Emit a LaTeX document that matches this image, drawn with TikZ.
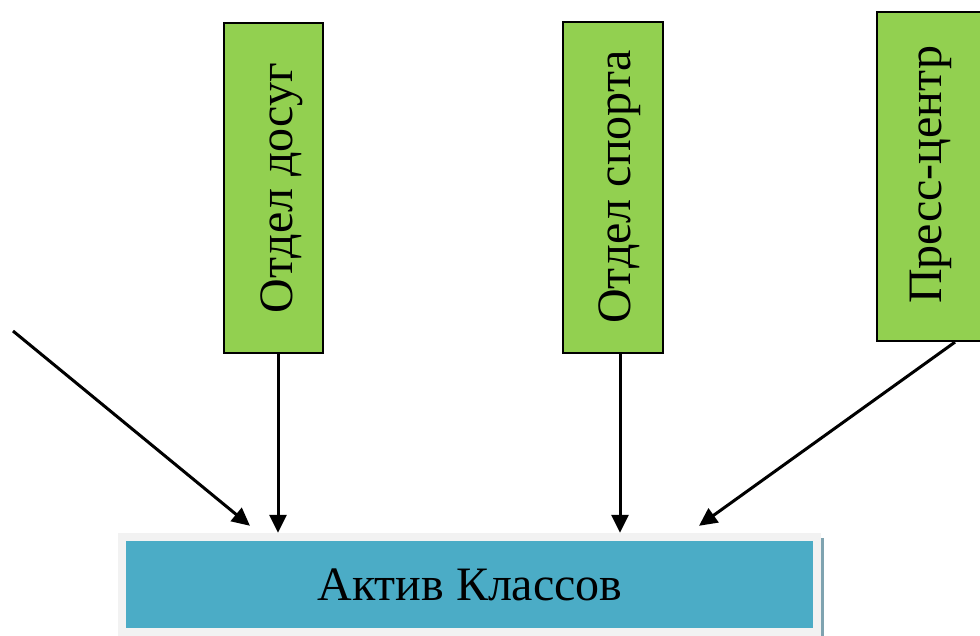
\documentclass[tikz,border=0pt]{standalone}
\usepackage{fontspec}
\setmainfont{Liberation Serif}
\newfontfamily\lblfont{Liberation Serif}
\usetikzlibrary{arrows.meta}
\definecolor{boxgreen}{HTML}{92D050}
\definecolor{boxblue}{HTML}{4BACC6}
\definecolor{framegray}{HTML}{F2F2F2}
\definecolor{edgeblue}{HTML}{7FA3B0}
\tikzset{
  greenbox/.style={draw=black, line width=2.2pt, fill=boxgreen, inner sep=0pt},
  lbl/.style={font=\lblfont\fontsize{48}{52}\selectfont, inner sep=0pt, text=black},
  arr/.style={draw=black, line width=3pt, -{Triangle[length=18pt,width=17pt]}},
}
\begin{document}
\begin{tikzpicture}[x=1pt,y=-1pt]
\useasboundingbox (0,0) rectangle (980,636);
% bottom box with frame
\node[fill=framegray, inner sep=0pt, minimum width=703pt, minimum height=103pt] (frame) at (469.5,584.5) {};
\node[fill=boxblue, inner sep=0pt, minimum width=687pt, minimum height=87pt] (act) at (469.5,584.5) {};
\node[lbl, anchor=base] (acttext) at (470,600) {Актив Классов};
\draw[edgeblue, line width=2.5pt] ([xshift=1.5pt,yshift=-5pt]frame.north east) -- ([xshift=1.5pt]frame.south east);
% green boxes
\node[greenbox, minimum width=99pt, minimum height=330pt] (g1) at (273.5,188) {};
\node[greenbox, minimum width=100pt, minimum height=331pt] (g2) at (613,187.5) {};
\node[greenbox, minimum width=106pt, minimum height=329pt] (g3) at (930,176.5) {};
\node[lbl, rotate=90, anchor=base] (t1) at (292,188) {Отдел досуг};
\node[lbl, rotate=90, anchor=base] (t2) at (630,187) {Отдел спорта};
\node[lbl, rotate=90, anchor=base] (t3) at (941,175) {Пресс-центр};
% arrows
\coordinate (free) at (13,331);
\coordinate (e0) at ([xshift=-219.5pt,yshift=7pt]frame.north);
\coordinate (e3) at ([xshift=229.5pt,yshift=7pt]frame.north);
\draw[arr] (free) -- (e0);
\draw[arr] ([xshift=4.5pt]g1.south) -- ([xshift=4.5pt]g1.south |- frame.north);
\draw[arr] ([xshift=7pt]g2.south) -- ([xshift=7pt]g2.south |- frame.north);
\draw[arr] ([xshift=25pt]g3.south) -- (e3);
\end{tikzpicture}
\end{document}
